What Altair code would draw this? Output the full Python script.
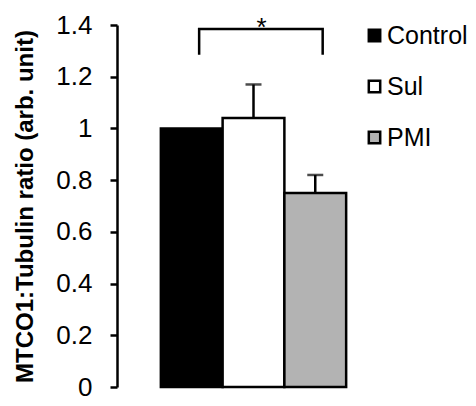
import altair as alt
import pandas as pd

categories = ["Control", "Sul", "PMI"]
means = [1.0, 1.04, 0.75]
errors = [0.0, 0.13, 0.07]
colors = ["#000000", "#ffffff", "#b3b3b3"]

bracket_cats = ["Control", "Control", "PMI", "PMI"]
bracket_y = [1.285, 1.385, 1.385, 1.285]
bracket_order = [0, 1, 2, 3]
sig_label = "*"
sig_cat = "Sul"
sig_y = 1.385

y_ticks = [0, 0.2, 0.4, 0.6, 0.8, 1.0, 1.2, 1.4]
y_title = "MTCO1:Tubulin ratio (arb. unit)"

FONT = "Liberation Sans"

bars_df = pd.DataFrame({"cat": categories, "mean": means, "err": errors})
bars_df["top"] = bars_df["mean"] + bars_df["err"]
err_df = bars_df[bars_df["err"] > 0]
bracket_df = pd.DataFrame({"cat": bracket_cats, "y": bracket_y, "o": bracket_order})
sig_df = pd.DataFrame({"cat": [sig_cat], "y": [sig_y], "t": [sig_label]})

xscale = alt.Scale(domain=categories, paddingInner=0, paddingOuter=0.71)
yscale = alt.Scale(domain=[0, 1.4], nice=False, zero=True)

base_x = alt.X("cat:N", scale=xscale, axis=None, sort=categories)

bars = alt.Chart(bars_df).mark_bar(stroke="black", strokeWidth=2.5).encode(
    x=base_x,
    y=alt.Y("mean:Q", scale=yscale,
            axis=alt.Axis(values=y_ticks, format="~g", title=y_title,
                          grid=False, domainColor="black", domainWidth=2.5,
                          tickColor="black", tickWidth=2.5, tickSize=7,
                          labelFont=FONT, labelFontSize=26, labelColor="black",
                          labelPadding=18,
                          titleFont=FONT, titleFontSize=24, titleFontWeight="bold",
                          titleColor="black", titlePadding=18)),
    fill=alt.Fill("cat:N", scale=alt.Scale(domain=categories, range=colors),
                  legend=alt.Legend(title=None, orient="none", legendX=245, legendY=-2,
                                    symbolType="square", symbolSize=130,
                                    symbolStrokeColor="black", symbolStrokeWidth=2.5,
                                    labelFont=FONT, labelFontSize=25, labelColor="black",
                                    rowPadding=25, labelOffset=0, padding=0)),
)

err_rule = alt.Chart(err_df).mark_rule(color="black", strokeWidth=2.5).encode(
    x=base_x,
    y=alt.Y("mean:Q", scale=yscale),
    y2="top:Q",
)

err_cap = alt.Chart(err_df).mark_tick(color="black", thickness=2.5, size=16).encode(
    x=base_x,
    y=alt.Y("top:Q", scale=yscale),
)

bracket = alt.Chart(bracket_df).mark_line(color="black", strokeWidth=2.5).encode(
    x=alt.X("cat:N", scale=xscale, axis=None, sort=categories, bandPosition=0.62),
    y=alt.Y("y:Q", scale=yscale),
    order="o:Q",
)

sig = alt.Chart(sig_df).mark_text(font=FONT, fontSize=26, color="black",
                                  baseline="alphabetic", dy=7).encode(
    x=alt.X("cat:N", scale=xscale, axis=None, sort=categories, bandPosition=0.63),
    y=alt.Y("y:Q", scale=yscale),
    text="t:N",
)

chart = alt.layer(bars, err_rule, err_cap, bracket, sig).properties(
    width=273, height=362,
    autosize=alt.AutoSizeParams(type="none"),
    padding={"left": 109, "top": 17, "right": 78, "bottom": 11},
).configure_view(stroke=None)

chart.save("out.html", embed_options={"renderer": "svg", "actions": False})
